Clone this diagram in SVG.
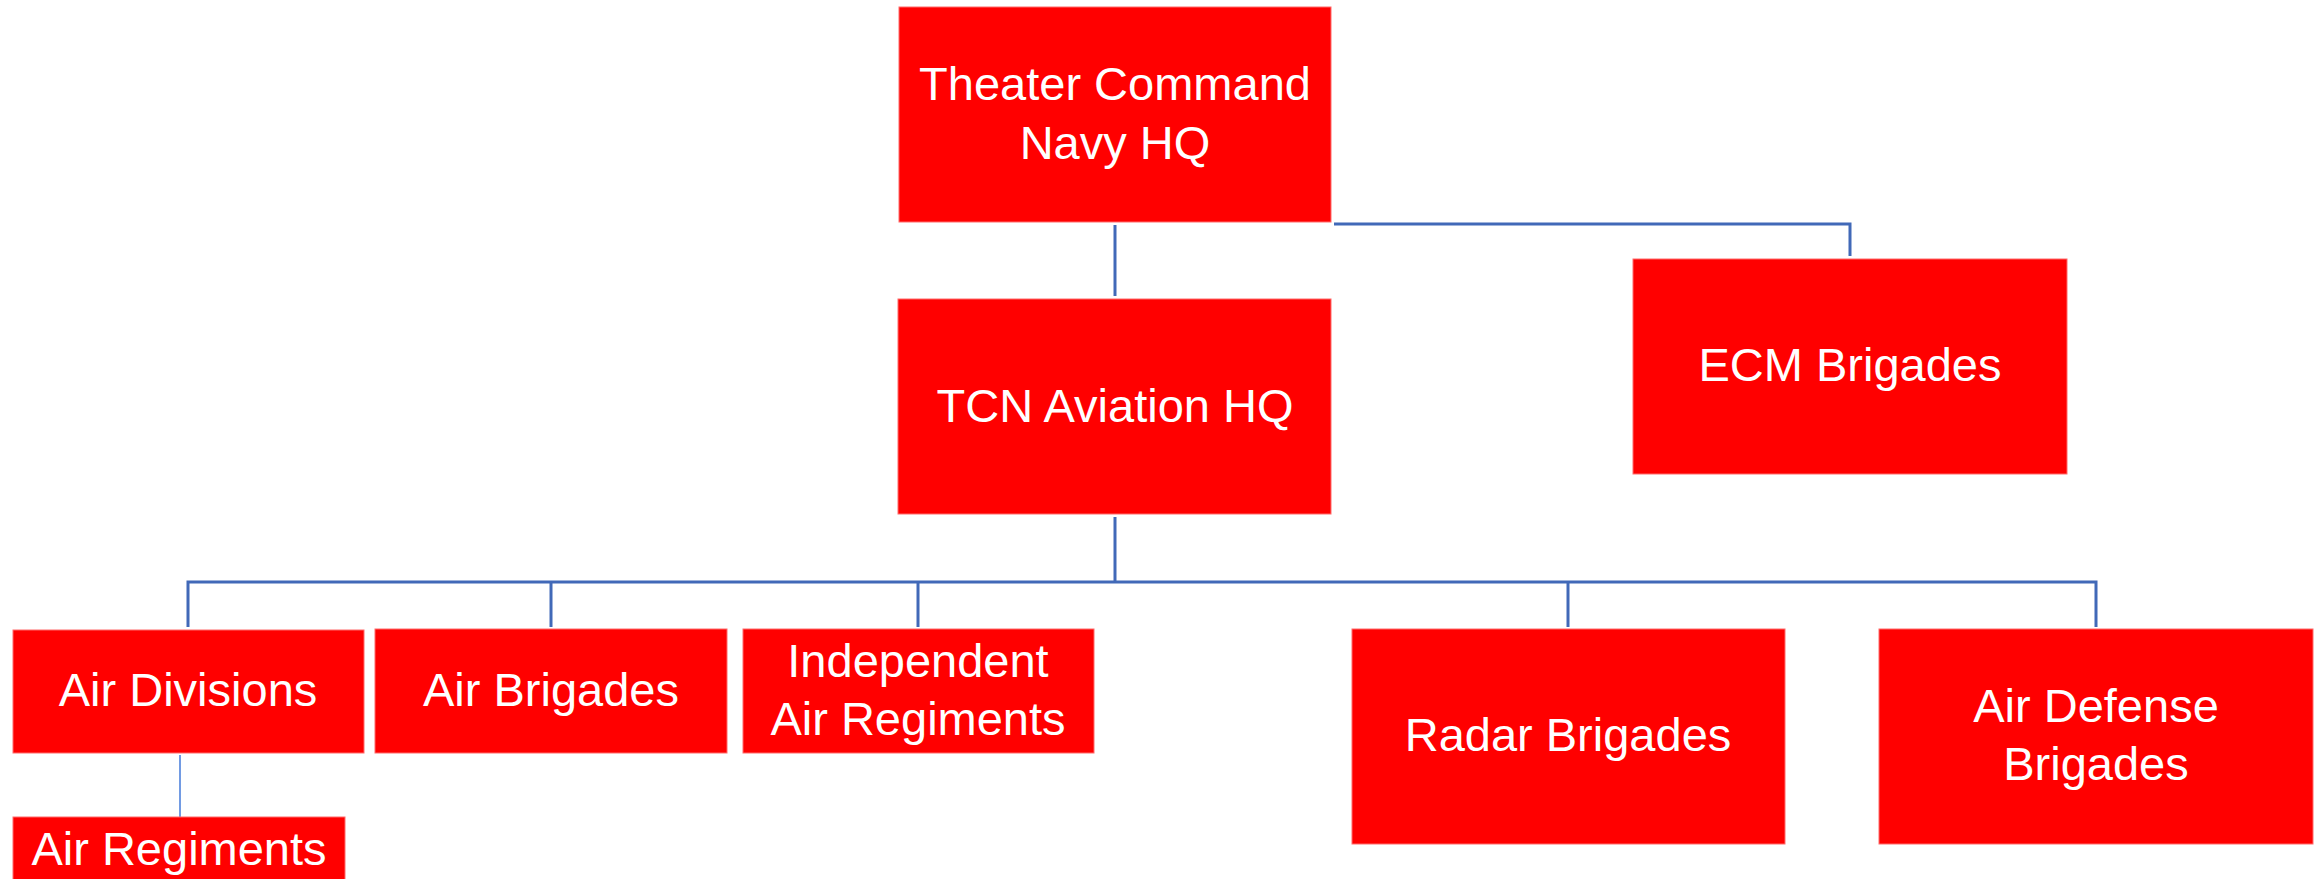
<svg xmlns="http://www.w3.org/2000/svg" width="2318" height="879" viewBox="0 0 2318 879">
<style>
.box{fill:#FF0000;stroke:#FF6B6B;stroke-width:1}
.lbl{font-family:"Liberation Sans",Arial,sans-serif;font-size:47px;fill:#FFFFFF;text-anchor:middle}
.c{fill:none;stroke:#4169B8;stroke-width:3}
.thin{fill:none;stroke:#4F82DC;stroke-width:1.6}
</style>
<rect width="2318" height="879" fill="#FFFFFF"/>
<g id="connectors">
<path class="c" d="M1115 225V296"/>
<path class="c" d="M1334 224H1850V256"/>
<path class="c" d="M1115 517V582"/>
<path class="c" d="M188 627V582H2096V627"/>
<path class="c" d="M551 582V627"/>
<path class="c" d="M918 582V627"/>
<path class="c" d="M1568 582V627"/>
<path class="thin" d="M180 755V817"/>
</g>
<g id="theater">
<rect class="box" x="899" y="7" width="432" height="215"/>
<text class="lbl" x="1115" y="100">Theater Command</text>
<text class="lbl" x="1115" y="159">Navy HQ</text>
</g>
<g id="ecm">
<rect class="box" x="1633" y="259" width="434" height="215"/>
<text class="lbl" x="1850" y="381">ECM Brigades</text>
</g>
<g id="tcn">
<rect class="box" x="898" y="299" width="433" height="215"/>
<text class="lbl" x="1115" y="422">TCN Aviation HQ</text>
</g>
<g id="airdiv">
<rect class="box" x="13" y="630" width="351" height="123"/>
<text class="lbl" x="188" y="706">Air Divisions</text>
</g>
<g id="airbrig">
<rect class="box" x="375" y="629" width="352" height="124"/>
<text class="lbl" x="551" y="706">Air Brigades</text>
</g>
<g id="indep">
<rect class="box" x="743" y="629" width="351" height="124"/>
<text class="lbl" x="918" y="677">Independent</text>
<text class="lbl" x="918" y="735">Air Regiments</text>
</g>
<g id="radar">
<rect class="box" x="1352" y="629" width="433" height="215"/>
<text class="lbl" x="1568" y="751">Radar Brigades</text>
</g>
<g id="airdef">
<rect class="box" x="1879" y="629" width="434" height="215"/>
<text class="lbl" x="2096" y="722">Air Defense</text>
<text class="lbl" x="2096" y="780">Brigades</text>
</g>
<g id="airreg">
<rect class="box" x="13" y="817" width="332" height="70"/>
<text class="lbl" x="179" y="865">Air Regiments</text>
</g>
</svg>
